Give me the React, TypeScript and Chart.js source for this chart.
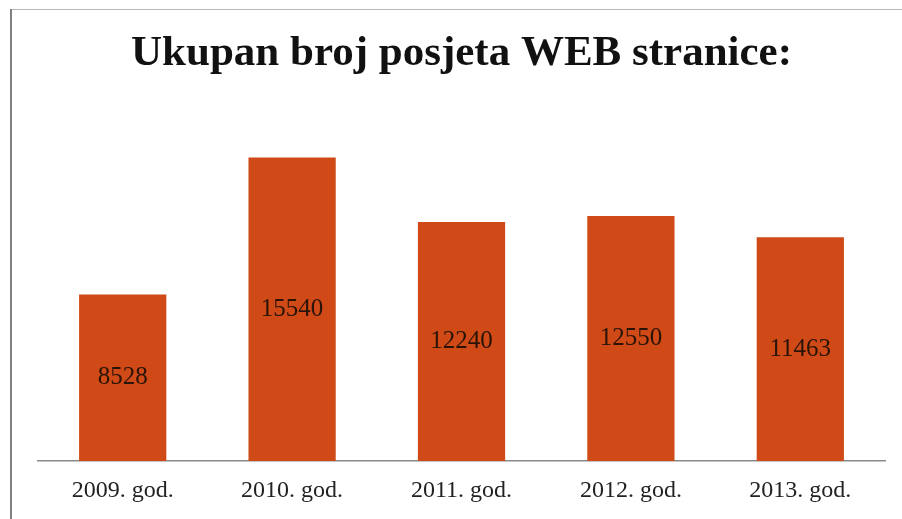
import React, { useEffect, useRef } from "react";
import { Chart, registerables } from "chart.js";

Chart.register(...registerables);

const titleText = "Ukupan broj posjeta WEB stranice:";
const categories = ["2009. god.", "2010. god.", "2011. god.", "2012. god.", "2013. god."];
const visits = [8528, 15540, 12240, 12550, 11463];
const yMax = 18000;

const barColor = "#CF4A16";
const fontFamily = "'Liberation Serif', 'Times New Roman', serif";

const framePlugin = {
  id: "frame",
  beforeDraw(chart: any) {
    const { ctx } = chart;
    ctx.save();
    ctx.strokeStyle = "#b8b8b8";
    ctx.lineWidth = 1;
    ctx.beginPath();
    ctx.moveTo(10, 9.5);
    ctx.lineTo(chart.width, 9.5);
    ctx.stroke();
    ctx.strokeStyle = "#808080";
    ctx.lineWidth = 2;
    ctx.beginPath();
    ctx.moveTo(11, 9);
    ctx.lineTo(11, chart.height);
    ctx.stroke();
    ctx.restore();
  },
};

const labelPlugin = {
  id: "barLabels",
  afterDatasetsDraw(chart: any) {
    const { ctx } = chart;
    const meta = chart.getDatasetMeta(0);
    ctx.save();
    ctx.font = `25px ${fontFamily}`;
    ctx.fillStyle = "#2a1408";
    ctx.textAlign = "center";
    ctx.textBaseline = "middle";
    meta.data.forEach((bar: any, i: number) => {
      const y = (bar.y + bar.base) / 2;
      ctx.fillText(String(chart.data.datasets[0].data[i]), bar.x, y);
    });
    ctx.restore();
  },
};

export default function App() {
  const ref = useRef<HTMLCanvasElement | null>(null);
  useEffect(() => {
    if (!ref.current) return;
    const chart = new Chart(ref.current, {
      type: "bar",
      data: {
        labels: categories,
        datasets: [
          {
            data: visits,
            backgroundColor: barColor,
            borderWidth: 0,
            barPercentage: 0.515,
            categoryPercentage: 1,
          },
        ],
      },
      options: {
        animation: false,
        responsive: false,
        maintainAspectRatio: false,
        layout: { padding: { left: 38, right: 17, top: 0, bottom: 0 } },
        plugins: {
          legend: { display: false },
          tooltip: { enabled: false },
          title: {
            display: true,
            text: titleText,
            color: "#111111",
            font: { family: fontFamily, size: 43, weight: "bold" },
            padding: { top: 28, bottom: 30 },
          },
        },
        scales: {
          y: { display: false, min: 0, max: yMax },
          x: {
            grid: { display: false, drawTicks: false },
            border: { display: true, color: "#8a8a8a", width: 1.5 },
            ticks: {
              color: "#222222",
              padding: 15,
              font: { family: fontFamily, size: 24 },
            },
            afterFit(scale: any) {
              scale.height = 58;
            },
          },
        },
      },
      plugins: [framePlugin, labelPlugin],
    });
    return () => chart.destroy();
  }, []);
  return (
    <div style={{ position: "fixed", left: 0, top: 0, width: 902, height: 519, background: "#ffffff" }}>
      <canvas ref={ref} width={902} height={519} style={{ display: "block" }} />
    </div>
  );
}
